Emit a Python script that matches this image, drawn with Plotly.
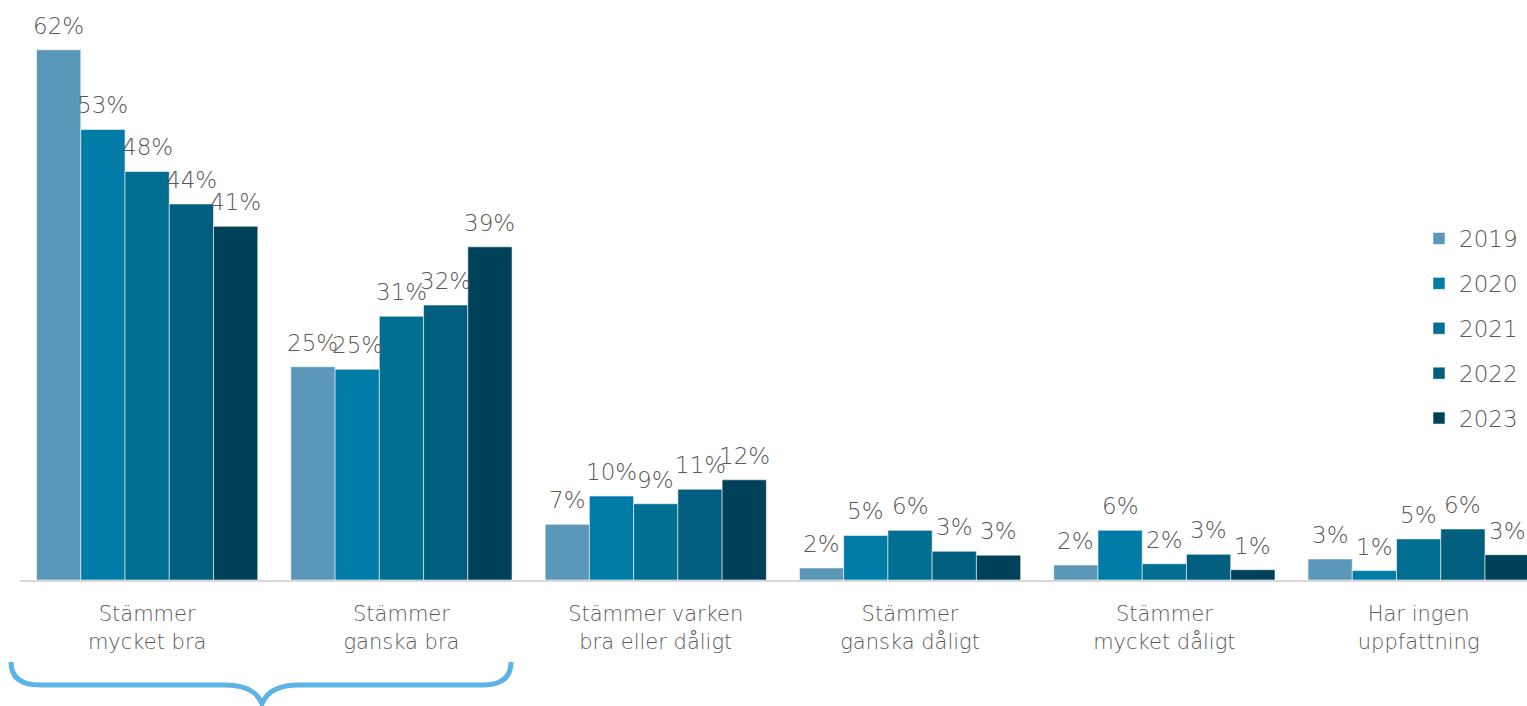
import plotly.graph_objects as go

categories = ["Stämmer<br>mycket bra", "Stämmer<br>ganska bra", "Stämmer varken<br>bra eller dåligt",
              "Stämmer<br>ganska dåligt", "Stämmer<br>mycket dåligt", "Har ingen<br>uppfattning"]
years = ["2019", "2020", "2021", "2022", "2023"]
values = {
    "2019": [61.9, 24.9, 6.5, 1.4, 1.75, 2.45],
    "2020": [52.6, 24.6, 9.8, 5.2, 5.8, 1.1],
    "2021": [47.7, 30.8, 8.9, 5.8, 1.9, 4.8],
    "2022": [43.9, 32.1, 10.6, 3.35, 3.0, 5.95],
    "2023": [41.3, 38.9, 11.7, 2.9, 1.2, 2.95],
}
labels = {
    "2019": ["62%", "25%", "7%", "2%", "2%", "3%"],
    "2020": ["53%", "25%", "10%", "5%", "6%", "1%"],
    "2021": ["48%", "31%", "9%", "6%", "2%", "5%"],
    "2022": ["44%", "32%", "11%", "3%", "3%", "6%"],
    "2023": ["41%", "39%", "12%", "3%", "1%", "3%"],
}
colors = ["#5b97b8", "#007ca6", "#006f91", "#015e7f", "#00415a"]

W, H = 1527, 706
L, R, T, B = 20, 0, 10, 126
BARGAP = 0.13
FONT = "DejaVu Sans"
WT = 200
TXT = "#595959"

fig = go.Figure()
n = len(years)
bw = (1 - BARGAP) / n
annotations = []
for j, y in enumerate(years):
    fig.add_trace(go.Bar(
        x=list(range(len(categories))), y=values[y], name=y,
        marker=dict(color=colors[j], line=dict(color="rgba(255,255,255,0.55)", width=1)),
        legendgroup=y, hoverinfo="skip",
    ))
    for i, v in enumerate(values[y]):
        annotations.append(dict(
            x=i + (j - (n - 1) / 2) * bw, y=v, xref="x", yref="y",
            text=labels[y][i], showarrow=False, yanchor="bottom", yshift=9,
            font=dict(family=FONT, size=23, color=TXT, weight=WT),
        ))

plot_w = W - L - R
plot_h = H - T - B

def px(xw, yw):
    return ((xw - L) / plot_w, (H - B - yw) / plot_h)

def P(xw, yw):
    x, y = px(xw, yw)
    return f"{x:.5f},{y:.5f}"

path = (f"M {P(11,662)} Q {P(11,685)} {P(40,685)} "
        f"L {P(225,685)} Q {P(255,685)} {P(262,704)} "
        f"Q {P(269,685)} {P(299,685)} "
        f"L {P(483,685)} Q {P(511,685)} {P(511,662)}")

lx, ly = px(1419, 217)

fig.update_layout(
    width=W, height=H,
    margin=dict(l=L, r=R, t=T, b=B, autoexpand=False),
    barmode="group", bargap=BARGAP, bargroupgap=0,
    plot_bgcolor="white", paper_bgcolor="white",
    font=dict(family=FONT, color=TXT),
    xaxis=dict(
        tickmode="array", tickvals=list(range(len(categories))), ticktext=categories,
        range=[-0.5, -0.5 + plot_w / 254.3], automargin=False,
        showgrid=False, zeroline=False, showline=True, linecolor="#d9d9d9", linewidth=2,
        ticks="", tickfont=dict(family=FONT, size=21, color=TXT, weight=WT),
        ticklabelstandoff=14,
    ),
    yaxis=dict(range=[0, plot_h / 8.565], visible=False, showgrid=False, zeroline=False,
               automargin=False),
    showlegend=True,
    legend=dict(
        x=lx, y=ly,
        xanchor="left", yanchor="top", bgcolor="rgba(0,0,0,0)",
        font=dict(family=FONT, size=23, color=TXT, weight=WT),
        tracegroupgap=12, itemwidth=30,
    ),
    annotations=annotations,
    shapes=[dict(type="path", path=path, xref="paper", yref="paper",
                 line=dict(color="#5db3e4", width=5), fillcolor="rgba(0,0,0,0)")],
)

fig.write_html(
    "out.html",
    config={"displayModeBar": False},
    post_script="document.body.style.margin='0';document.body.style.overflow='hidden';",
)
